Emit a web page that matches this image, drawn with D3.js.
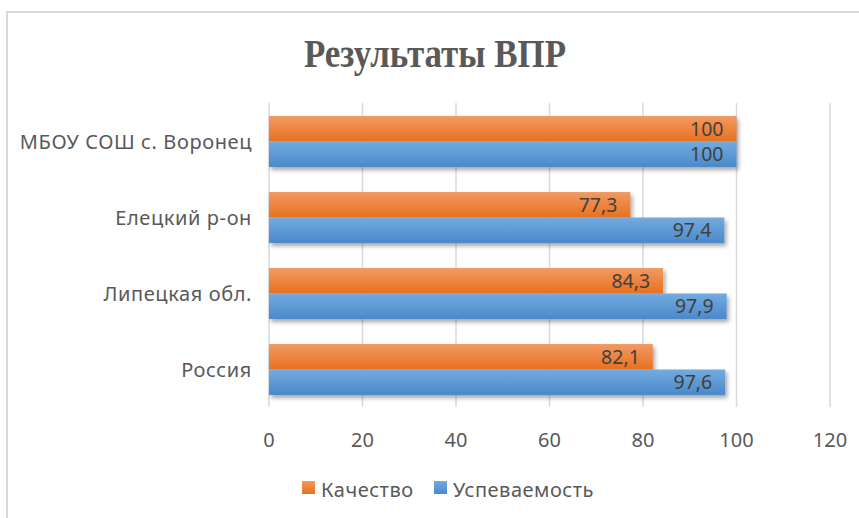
<!DOCTYPE html>
<html>
<head>
<meta charset="utf-8">
<script src="https://cdn.jsdelivr.net/npm/d3@7"></script>
<style>
  html, body { margin: 0; padding: 0; background: #fff; }
  svg { display: block; font-family: "Noto Sans", "Open Sans", sans-serif; }
</style>
</head>
<body>
<div id="chart"></div>
<script>
const categories = ["МБОУ СОШ с. Воронец", "Елецкий р-он", "Липецкая обл.", "Россия"];
const seriesNames = ["Качество", "Успеваемость"];
const quality = [100, 77.3, 84.3, 82.1];
const success = [100, 97.4, 97.9, 97.6];
const tickValues = [0, 20, 40, 60, 80, 100, 120];

const width = 859, height = 518;
const svg = d3.select("#chart").append("svg")
    .attr("width", width)
    .attr("height", height);

const defs = svg.append("defs");
function gradient(id, top, bottom) {
    const g = defs.append("linearGradient").attr("id", id)
        .attr("x1", 0).attr("y1", 0).attr("x2", 0).attr("y2", 1);
    g.append("stop").attr("offset", "0%").attr("stop-color", top);
    g.append("stop").attr("offset", "100%").attr("stop-color", bottom);
}
gradient("gOrange", "#F29A62", "#E8701F");
gradient("gBlue", "#72ABDF", "#4A89CA");

const shadow = defs.append("filter").attr("id", "shadow")
    .attr("x", "-5%").attr("y", "-30%").attr("width", "115%").attr("height", "170%");
shadow.append("feDropShadow")
    .attr("dx", 2).attr("dy", 3).attr("stdDeviation", 2)
    .attr("flood-color", "#000").attr("flood-opacity", 0.35);

// outer frame (right/bottom edges lie outside the picture)
svg.append("rect")
    .attr("x", 7).attr("y", 12)
    .attr("width", 900).attr("height", 600)
    .attr("fill", "none")
    .attr("stroke", "#d9d9d9")
    .attr("stroke-width", 2);

svg.append("text")
    .attr("x", 435).attr("y", 67)
    .attr("text-anchor", "middle")
    .attr("font-family", "'Liberation Serif', 'DejaVu Serif', serif")
    .attr("font-weight", "bold")
    .attr("font-size", 39)
    .attr("textLength", 262)
    .attr("lengthAdjust", "spacingAndGlyphs")
    .attr("fill", "#595959")
    .text("Результаты ВПР");

const x = d3.scaleLinear().domain([0, 120]).range([269, 830]);
const y = d3.scaleBand().domain(categories).range([103.5, 407.5])
    .paddingInner(0.33).paddingOuter(0.165);
const ys = d3.scaleBand().domain(seriesNames).range([0, y.bandwidth()]);

const fmt = d3.formatLocale({decimal: ",", thousands: " ", grouping: [3], currency: ["", ""]}).format("~g");

// gridlines
svg.append("g")
    .selectAll("line")
    .data(tickValues)
    .enter().append("line")
    .attr("x1", d => x(d)).attr("x2", d => x(d))
    .attr("y1", 103).attr("y2", 407)
    .attr("stroke", "#d9d9d9")
    .attr("stroke-width", 1.5);

// x tick labels
svg.append("g")
    .selectAll("text")
    .data(tickValues)
    .enter().append("text")
    .attr("x", d => x(d)).attr("y", 447)
    .attr("text-anchor", "middle")
    .attr("font-size", 20)
    .attr("fill", "#595959")
    .text(d => d);

// category labels
svg.append("g")
    .selectAll("text")
    .data(categories)
    .enter().append("text")
    .attr("x", 252)
    .attr("y", d => y(d) + y.bandwidth() / 2 + 7)
    .attr("text-anchor", "end")
    .attr("font-size", 20)
    .attr("letter-spacing", 0.6)
    .attr("fill", "#595959")
    .text(d => d);

const rows = [];
categories.forEach((c, i) => {
    rows.push({cat: c, series: "Качество", value: quality[i], fill: "url(#gOrange)"});
    rows.push({cat: c, series: "Успеваемость", value: success[i], fill: "url(#gBlue)"});
});

// bars
svg.append("g")
    .selectAll("rect")
    .data(rows)
    .enter().append("rect")
    .attr("x", x(0))
    .attr("y", d => y(d.cat) + ys(d.series))
    .attr("width", d => x(d.value) - x(0))
    .attr("height", ys.bandwidth())
    .attr("fill", d => d.fill)
    .attr("filter", "url(#shadow)");

// data labels
svg.append("g")
    .selectAll("text")
    .data(rows)
    .enter().append("text")
    .attr("x", d => x(d.value) - 13)
    .attr("y", d => y(d.cat) + ys(d.series) + ys.bandwidth() / 2 + 7)
    .attr("text-anchor", "end")
    .attr("font-size", 19.5)
    .attr("fill", "#404040")
    .text(d => fmt(d.value));

// legend
const legend = svg.append("g");
const legendItems = [
    {name: "Качество", fill: "url(#gOrange)", x: 302},
    {name: "Успеваемость", fill: "url(#gBlue)", x: 434}
];
legendItems.forEach(item => {
    legend.append("rect")
        .attr("x", item.x).attr("y", 481)
        .attr("width", 13).attr("height", 13)
        .attr("fill", item.fill);
    legend.append("text")
        .attr("x", item.x + 19).attr("y", 497)
        .attr("font-size", 20)
        .attr("letter-spacing", 0.5)
        .attr("fill", "#595959")
        .text(item.name);
});
</script>
</body>
</html>
